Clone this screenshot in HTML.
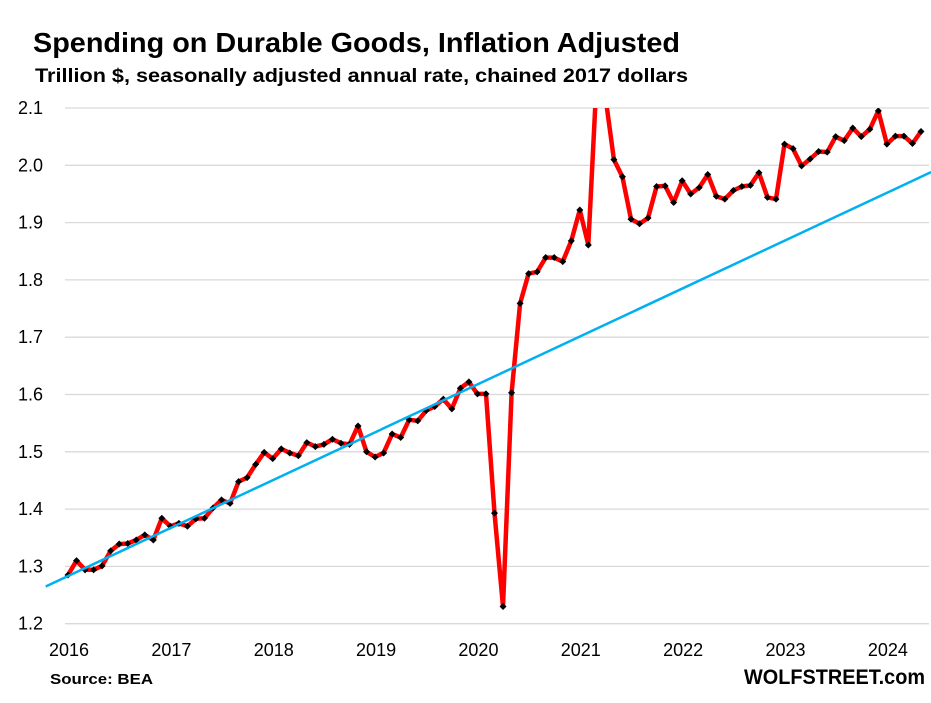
<!DOCTYPE html>
<html><head><meta charset="utf-8"><style>
html,body{margin:0;padding:0;background:#fff;}
body{width:931px;height:703px;overflow:hidden;position:relative;font-family:"Liberation Sans",Arial,sans-serif;}
</style></head><body>
<svg id="c" width="931" height="703" xmlns="http://www.w3.org/2000/svg" style="position:absolute;left:0;top:0">
<text x="33" y="52" font-size="28" font-weight="bold" fill="#000" textLength="647" lengthAdjust="spacingAndGlyphs">Spending on Durable Goods, Inflation Adjusted</text>
<text x="35" y="82" font-size="19" font-weight="bold" fill="#000" textLength="653" lengthAdjust="spacingAndGlyphs">Trillion $, seasonally adjusted annual rate, chained 2017 dollars</text>
<g id="grid"></g>
<g id="data"></g>
<text x="50" y="684" font-size="15" font-weight="bold" fill="#000" textLength="103" lengthAdjust="spacingAndGlyphs">Source: BEA</text>
<text x="744" y="684" font-size="21" font-weight="bold" fill="#000" textLength="181" lengthAdjust="spacingAndGlyphs">WOLFSTREET.com</text>
</svg>
<script>
var v=[1.285,1.31,1.294,1.294,1.301,1.327,1.339,1.34,1.346,1.355,1.346,1.384,
1.37,1.375,1.37,1.383,1.384,1.402,1.416,1.41,1.448,1.455,1.478,1.499,
1.488,1.505,1.498,1.493,1.516,1.509,1.513,1.522,1.515,1.513,1.545,1.5,
1.491,1.498,1.531,1.525,1.556,1.554,1.572,1.579,1.592,1.575,1.611,1.622,
1.601,1.601,1.393,1.23,1.603,1.759,1.811,1.814,1.839,1.839,1.832,1.868,
1.922,1.861,2.16,2.12,2.01,1.98,1.906,1.898,1.908,1.963,1.964,1.935,
1.973,1.95,1.961,1.984,1.946,1.941,1.956,1.963,1.965,1.987,1.944,1.941,
2.037,2.029,1.999,2.011,2.024,2.023,2.05,2.043,2.065,2.05,2.063,2.095,
2.037,2.051,2.051,2.038,2.059];
function Y(a){return 623.7-(a-1.2)*573;}
function X(i){return 68+i*8.53;}
var ns="http://www.w3.org/2000/svg",g=document.getElementById('grid'),d=document.getElementById('data');
function el(p,t,a,txt){var e=document.createElementNS(ns,t);for(var k in a)e.setAttribute(k,a[k]);if(txt)e.textContent=txt;p.appendChild(e);return e;}
for(var k=0;k<10;k++){var val=1.2+k*0.1,y=Y(val);
el(g,'line',{x1:65,x2:929,y1:y,y2:y,stroke:'#d9d9d9','stroke-width':1.3});
el(g,'text',{x:43,y:y+6,'font-size':18,'text-anchor':'end',fill:'#000'},val.toFixed(1));}
for(var yr=0;yr<9;yr++){el(g,'text',{x:X(yr*12)+1,y:656,'font-size':18,'text-anchor':'middle',fill:'#000'},String(2016+yr));}
el(d,'defs',{}).innerHTML='<clipPath id="cp"><rect x="0" y="'+Y(2.1)+'" width="931" height="600"/></clipPath>';
var pts=v.map(function(a,i){return X(i).toFixed(1)+','+Y(a).toFixed(1)}).join(' ');
var gg=el(d,'g',{'clip-path':'url(#cp)'});
el(gg,'polyline',{points:pts,fill:'none',stroke:'#ff0000','stroke-width':4.5,'stroke-linejoin':'round'});
el(d,'line',{x1:45.7,y1:Y(1.265),x2:931,y2:Y(1.988),stroke:'#00b0f0','stroke-width':2.5});
v.forEach(function(a,i){if(a>2.1)return;var x=X(i),y=Y(a);
el(gg,'polygon',{points:(x-3.5)+','+y+' '+x+','+(y-3.5)+' '+(x+3.5)+','+y+' '+x+','+(y+3.5),fill:'#000'});});
</script>
</body></html>
